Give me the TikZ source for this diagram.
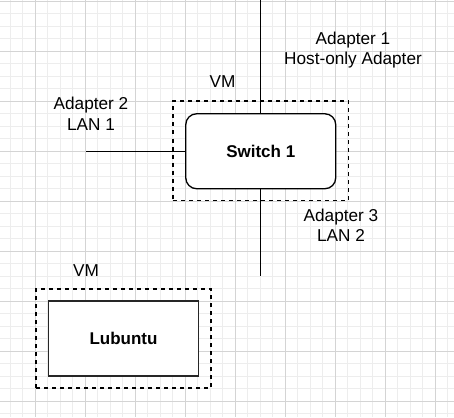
\documentclass[tikz,border=0pt]{standalone}
\usepackage{fontspec}
\setmainfont{Liberation Sans}
\begin{document}
\begin{tikzpicture}[x=1pt,y=-1pt,
  lbl/.style={inner sep=0pt, align=center, font=\fontsize{17.2}{20.5}\selectfont},
  conn/.style={draw=black, line width=1.3pt},
  vmbox/.style={draw=black, line width=1.2pt, dash pattern=on 4pt off 4pt, inner sep=0pt},
  switchbox/.style={draw=black, fill=white, line width=1.3pt, rounded corners=11pt, inner sep=0pt,
     minimum width=150pt, minimum height=75pt, font=\bfseries\fontsize{17}{20}\selectfont},
  hostbox/.style={draw=black!85, fill=white, line width=1.3pt, inner sep=0pt,
     minimum width=150.5pt, minimum height=75pt, font=\bfseries\fontsize{17}{20}\selectfont}
]
\useasboundingbox (0,0) rectangle (454,417);
\fill[white] (0,0) rectangle (454,417);
% grid
\foreach \i in {0,...,35} {\draw[black!7, line width=0.8pt] (10+12.5*\i,0) -- (10+12.5*\i,417);}
\foreach \i in {0,...,33} {\draw[black!7, line width=0.8pt] (0,1+12.5*\i) -- (454,1+12.5*\i);}
\foreach \i in {0,...,8} {\draw[black!17, line width=0.8pt] (35+50*\i,0) -- (35+50*\i,417);}
\foreach \i in {0,...,8} {\draw[black!17, line width=0.8pt] (0,1+50*\i) -- (454,1+50*\i);}

% VM around switch
\node[vmbox, minimum width=175.5pt, minimum height=99.5pt] (vm1) at (260.75,150.75) {};
\node[switchbox] (sw) at (260.75,151.25) {Switch 1};

\coordinate (top) at (260.75,-2);
\coordinate (bot) at (260.75,276);
\coordinate (left) at (86,151.25);
\draw[conn] (top) -- (sw.north);
\draw[conn] (sw.south) -- (bot);
\draw[conn] (left) -- (sw.west);

\node[lbl] (vmlbl1) at (222.5,82) {VM};
\node[lbl] (ad1) at (353,50) {Adapter 1\\Host-only Adapter};
\node[lbl] (ad2) at (91,114) {Adapter 2\\LAN 1};
\node[lbl] (ad3) at (341,225.5) {Adapter 3\\LAN 2};

% Lubuntu VM
\node[vmbox, minimum width=175pt, minimum height=99pt] (vm2) at (123.5,338.5) {};
\node[hostbox] (lub) at (123.5,338.5) {Lubuntu};
\node[lbl] (vmlbl2) at (86,271) {VM};
\end{tikzpicture}
\end{document}
